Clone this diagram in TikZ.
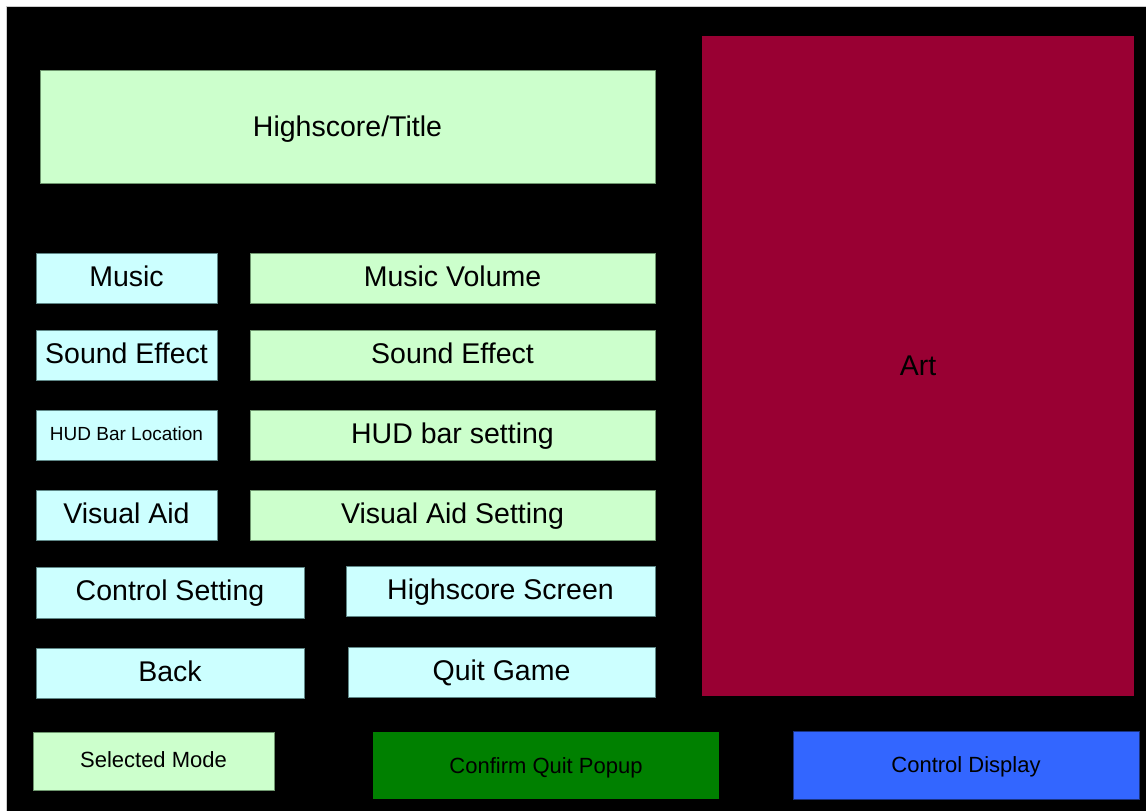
\documentclass[tikz,border=0pt]{standalone}
\usepackage{fontspec}
\setmainfont{Liberation Sans}

\definecolor{mintfill}{HTML}{CCFFCC}
\definecolor{mintline}{HTML}{6E966E}
\definecolor{icefill}{HTML}{CCFFFF}
\definecolor{iceline}{HTML}{5F8787}
\definecolor{artfill}{HTML}{990033}
\definecolor{popfill}{HTML}{008000}
\definecolor{dispfill}{HTML}{3366FF}
\definecolor{displine}{HTML}{1A3380}

\tikzset{
  panel/.style={anchor=north west, inner sep=0pt, outer sep=0pt,
    line width=0.8pt, text=black, align=center},
  bigtext/.style={font=\fontsize{28.5}{32}\selectfont,
    text height=21pt, text depth=5pt},
  smalltext/.style={font=\fontsize{22}{26}\selectfont,
    text height=16.5pt, text depth=4.5pt},
  tinytext/.style={font=\fontsize{19}{22}\selectfont,
    text height=14pt, text depth=2.4pt},
  mint/.style={panel, fill=mintfill, draw=mintline},
  ice/.style={panel, fill=icefill, draw=iceline},
}

% place a box by its top-left corner, width and height (pixel units)
\newcommand{\uibox}[7]{%
  \node[#6, minimum width=#4, minimum height=#5] (#1) at (#2,#3) {#7};}

\begin{document}
\begin{tikzpicture}[x=1pt,y=-1pt]
  \useasboundingbox (0,0) rectangle (1146,811);
  \clip (0,0) rectangle (1146,811);
  \fill[white] (0,0) rectangle (1146,811);
  % screen area
  \draw[fill=black, draw=black!20, line width=0.8pt] (6.5,6.5) rectangle (1160,830);

  % header and artwork
  \uibox{title}{40}{70}{615pt}{113pt}{mint, bigtext, text depth=1pt}{Highscore/Title}
  \uibox{art}{702}{36}{432pt}{660pt}{panel, fill=artfill, bigtext, text depth=3pt}{Art}

  % option labels and their settings
  \uibox{music}{36}{253}{181pt}{50pt}{ice, bigtext}{Music}
  \uibox{musicvol}{250}{253}{405pt}{50pt}{mint, bigtext}{Music Volume}

  \uibox{sfx}{36}{330}{181pt}{50pt}{ice, bigtext}{Sound Effect}
  \uibox{sfxset}{250}{330}{405pt}{50pt}{mint, bigtext}{Sound Effect}

  \uibox{hud}{36}{410}{181pt}{50pt}{ice, tinytext}{HUD Bar Location}
  \uibox{hudset}{250}{410}{405pt}{50pt}{mint, bigtext}{HUD bar setting}

  \uibox{aid}{36}{490}{181pt}{50pt}{ice, bigtext}{Visual Aid}
  \uibox{aidset}{250}{490}{405pt}{50pt}{mint, bigtext}{Visual Aid Setting}

  % navigation buttons
  \uibox{ctrl}{36}{567}{268pt}{51pt}{ice, bigtext}{Control Setting}
  \uibox{hiscr}{346}{566}{309pt}{50pt}{ice, bigtext}{Highscore Screen}
  \uibox{back}{36}{648}{268pt}{50pt}{ice, bigtext}{Back}
  \uibox{quit}{348}{647}{307pt}{50pt}{ice, bigtext}{Quit Game}

  % bottom row
  \uibox{mode}{33}{732}{241pt}{58pt}{mint, smalltext}{Selected Mode}
  \uibox{confirm}{373}{732}{346pt}{67pt}{panel, fill=popfill, smalltext, text depth=1pt}{Confirm Quit Popup}
  \uibox{ctrldisp}{793}{731}{346pt}{68pt}{panel, fill=dispfill, draw=displine, smalltext, text depth=1pt}{Control Display}
\end{tikzpicture}
\end{document}
